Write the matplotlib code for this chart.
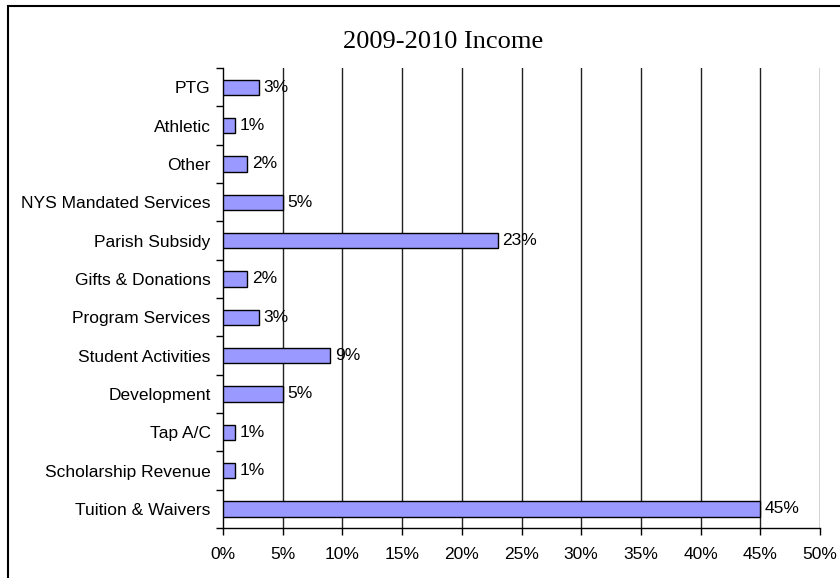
import matplotlib
matplotlib.use("Agg")
import matplotlib.pyplot as plt
from matplotlib.patches import Rectangle
from matplotlib.ticker import FixedLocator

categories = ["Tuition & Waivers", "Scholarship Revenue", "Tap A/C", "Development",
              "Student Activities", "Program Services", "Gifts & Donations",
              "Parish Subsidy", "NYS Mandated Services", "Other", "Athletic", "PTG"]
values = [45, 1, 1, 5, 9, 3, 2, 23, 5, 2, 1, 3]
xticks = [0, 5, 10, 15, 20, 25, 30, 35, 40, 45, 50]
xticklabels = [f"{t}%" for t in xticks]
title = "2009-2010 Income"

W, H = 840, 578
fig = plt.figure(figsize=(W/100, H/100), dpi=100)
fig.patches.append(Rectangle((8/W, -0.1), 2, 1.1 - 6/H, transform=fig.transFigure,
                             fill=False, edgecolor="black", linewidth=1.5))

x0, x1, ytop, ybot = 223, 820, 68, 528
ax = fig.add_axes([x0/W, 1 - ybot/H, (x1-x0)/W, (ybot-ytop)/H])
ypos = list(range(len(categories)))
ax.barh(ypos, values, height=0.4, color="#9999FF", edgecolor="black", linewidth=1, zorder=3)
for y, v in zip(ypos, values):
    ax.text(v + 0.4, y, f"{v}%", va="center", ha="left", fontsize=12.5,
            family="Liberation Sans", zorder=4)

ax.set_xlim(0, 50)
ax.set_ylim(-0.5, len(categories) - 0.5)
ax.set_xticks(xticks)
ax.set_xticklabels(xticklabels, family="Liberation Sans", fontsize=12.5)
ax.set_yticks(ypos)
ax.set_yticklabels(categories, family="Liberation Sans", fontsize=12.5)
ax.tick_params(axis="y", length=0, pad=9)
ax.yaxis.set_minor_locator(FixedLocator([i - 0.5 for i in range(len(categories) + 1)]))
ax.tick_params(axis="y", which="minor", length=5, width=1, direction="out")
ax.tick_params(axis="x", length=5, width=1, direction="out", pad=9)
for x in xticks[1:]:
    ax.axvline(x, color="#222222", linewidth=1, zorder=1)
ax.spines["top"].set_visible(False)
ax.spines["right"].set_visible(False)
ax.spines["left"].set_linewidth(1)
ax.spines["bottom"].set_linewidth(1)

fig.text(443/W, 1 - 42/H, title, ha="center", va="center", fontsize=19,
         family="Liberation Serif")

fig.savefig("out.png", dpi=100)
